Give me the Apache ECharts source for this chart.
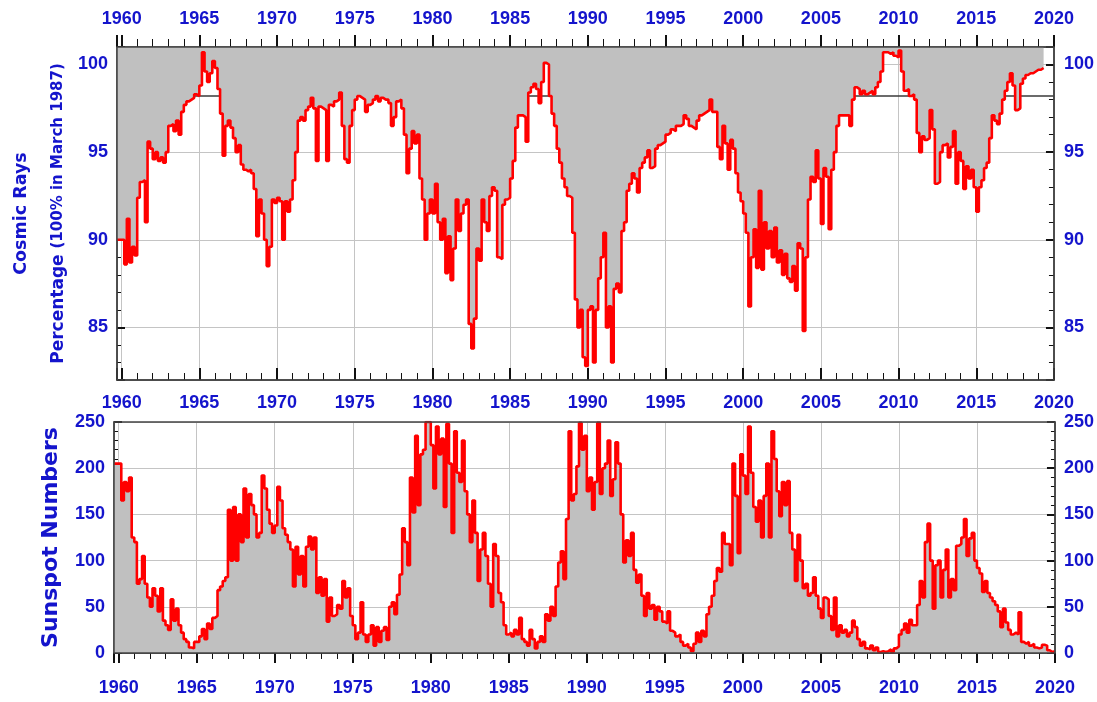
<!DOCTYPE html>
<html>
<head>
<meta charset="utf-8">
<script src="https://cdn.jsdelivr.net/npm/echarts@6/dist/echarts.min.js"></script>
<style>
  html, body { margin: 0; padding: 0; background: #ffffff; }
  #chart { width: 1097px; height: 702px; }
</style>
</head>
<body>
<div id="chart"></div>
<script>
// Bimonthly samples: six values per year, starting at the first year given.
const stepYears = 1 / 6;

// Cosmic ray intensity, percent of the March 1987 level, 1960.0 onwards.
const cosmicStartYear = 1960;
const cosmicRays = [
  90.0, 88.6, 91.2, 88.7, 89.6, 89.1,    // 1960
  92.4, 93.3, 93.4, 91.0, 95.6, 95.2,    // 1961
  94.6, 95.0, 94.5, 94.7, 94.4, 95.0,    // 1962
  96.5, 96.6, 96.2, 96.8, 96.0, 97.3,    // 1963
  97.7, 97.9, 98.0, 98.1, 98.3, 98.2,    // 1964
  98.8, 100.7, 99.6, 99.0, 99.5, 100.2,  // 1965
  99.8, 98.6, 97.2, 94.8, 96.5, 96.8,    // 1966
  96.4, 95.8, 95.0, 95.4, 94.3, 94.0,    // 1967
  93.9, 94.0, 93.8, 92.9, 90.2, 92.3,    // 1968
  91.5, 90.0, 88.5, 89.6, 92.3, 92.1,    // 1969
  92.4, 92.2, 90.0, 92.2, 91.6, 92.3,    // 1970
  93.4, 95.0, 96.8, 97.0, 96.8, 97.4,    // 1971
  97.6, 98.1, 97.5, 94.5, 97.6, 97.5,    // 1972
  97.4, 94.5, 97.7, 97.6, 97.9, 98.0,    // 1973
  98.4, 96.5, 94.6, 94.4, 96.5, 97.4,    // 1974
  98.0, 98.2, 98.1, 98.0, 97.3, 97.7,    // 1975
  97.8, 98.0, 98.2, 97.9, 98.1, 98.0,    // 1976
  98.0, 97.8, 96.5, 97.0, 97.9, 98.0,    // 1977
  97.5, 96.0, 93.8, 95.2, 96.2, 95.5,    // 1978
  96.0, 93.5, 92.3, 90.0, 91.5, 92.3,    // 1979
  91.5, 93.2, 91.0, 90.0, 91.2, 88.1,    // 1980
  90.2, 87.7, 89.5, 92.3, 90.5, 91.5,    // 1981
  92.0, 92.3, 85.2, 83.8, 85.5, 89.5,    // 1982
  88.8, 92.3, 91.0, 90.5, 92.5, 93.0,    // 1983
  92.8, 89.0, 88.9, 92.0, 92.3, 92.4,    // 1984
  93.5, 94.5, 96.4, 97.1, 97.1, 97.0,    // 1985
  95.6, 98.4, 98.7, 98.9, 98.6, 97.8,    // 1986
  99.0, 100.1, 100.0, 98.2, 97.2, 96.5,  // 1987
  95.2, 94.4, 93.5, 93.0, 92.5, 92.4,    // 1988
  90.4, 86.6, 85.0, 86.0, 83.3, 82.8,    // 1989
  86.0, 86.2, 83.0, 86.0, 87.8, 89.0,    // 1990
  90.4, 85.0, 86.2, 83.0, 87.2, 87.5,    // 1991
  87.0, 90.5, 91.0, 92.8, 93.2, 93.8,    // 1992
  93.5, 92.7, 94.1, 94.4, 94.7, 95.1,    // 1993
  94.1, 94.2, 95.2, 95.4, 95.5, 95.6,    // 1994
  96.0, 96.1, 96.3, 96.2, 96.5, 96.5,    // 1995
  96.6, 97.1, 96.9, 96.5, 96.4, 96.3,    // 1996
  96.8, 97.1, 97.2, 97.3, 97.4, 98.0,    // 1997
  97.3, 97.3, 95.3, 94.6, 96.5, 95.5,    // 1998
  94.0, 95.7, 95.2, 93.8, 92.7, 92.2,    // 1999
  91.5, 90.4, 86.2, 89.0, 90.6, 88.4,    // 2000
  92.8, 88.3, 91.0, 89.5, 90.5, 89.0,    // 2001
  90.7, 88.7, 89.4, 88.0, 89.2, 87.8,    // 2002
  87.6, 88.5, 87.1, 89.8, 89.5, 84.8,    // 2003
  89.0, 92.3, 93.6, 93.3, 95.1, 93.5,    // 2004
  90.9, 94.1, 93.6, 90.6, 94.0, 95.0,    // 2005
  96.5, 97.1, 97.1, 97.1, 97.1, 96.5,    // 2006
  98.0, 98.7, 98.6, 98.3, 98.5, 98.3,    // 2007
  98.4, 98.5, 98.3, 98.7, 99.0, 99.6,    // 2008
  100.7, 100.7, 100.6, 100.7, 100.5, 100.4, // 2009
  100.8, 99.6, 98.5, 98.6, 98.2, 98.3,   // 2010
  98.0, 96.1, 95.0, 95.9, 95.7, 95.8,    // 2011
  97.4, 96.3, 93.2, 93.3, 95.0, 95.4,    // 2012
  95.5, 94.7, 95.3, 96.2, 93.2, 95.0,    // 2013
  94.5, 92.9, 94.2, 93.5, 94.0, 93.0,    // 2014
  91.6, 93.0, 93.4, 94.1, 94.4, 95.8,    // 2015
  97.1, 96.8, 96.6, 97.2, 98.0, 98.5,    // 2016
  99.0, 99.5, 98.8, 97.4, 97.5, 98.9,    // 2017
  99.2, 99.4, 99.5, 99.5, 99.6, 99.7,    // 2018
  99.7, 99.8, 99.8                       // 2019
];

// Level of the horizontal reference line in the cosmic ray panel.
const cosmicReferenceLevel = 98.2;

// Monthly-mean sunspot numbers, sampled bimonthly, 1960.0 onwards.
const sunspotStartYear = 1960;
const sunspotNumbers = [
  205, 165, 185, 175, 190, 125,  // 1960
  120, 75, 80, 105, 75, 60,      // 1961
  50, 70, 62, 45, 70, 35,        // 1962
  30, 25, 58, 35, 48, 30,        // 1963
  22, 15, 12, 6, 5, 12,          // 1964
  12, 18, 26, 15, 32, 26,        // 1965
  38, 40, 68, 72, 78, 82,        // 1966
  155, 100, 158, 100, 150, 120,  // 1967
  178, 125, 172, 160, 150, 125,  // 1968
  130, 192, 178, 155, 140, 130,  // 1969
  138, 180, 165, 135, 128, 120,  // 1970
  112, 72, 115, 85, 105, 72,     // 1971
  115, 126, 112, 125, 65, 82,    // 1972
  62, 80, 34, 60, 40, 42,        // 1973
  52, 48, 78, 60, 70, 40,        // 1974
  30, 15, 22, 55, 20, 12,        // 1975
  20, 30, 8, 28, 12, 24,         // 1976
  28, 14, 50, 55, 42, 63,        // 1977
  85, 135, 120, 95, 190, 152,    // 1978
  235, 160, 215, 220, 250, 250,  // 1979
  225, 178, 245, 215, 232, 158,  // 1980
  248, 205, 130, 240, 195, 185,  // 1981
  230, 175, 150, 120, 165, 130,  // 1982
  78, 112, 130, 105, 75, 50,     // 1983
  118, 105, 65, 55, 30, 20,      // 1984
  22, 18, 25, 20, 38, 15,        // 1985
  12, 8, 25, 15, 5, 12,          // 1986
  18, 12, 42, 35, 50, 40,        // 1987
  72, 98, 110, 80, 145, 240,     // 1988
  165, 172, 202, 249, 220, 235,  // 1989
  175, 190, 155, 185, 249, 172,  // 1990
  200, 205, 230, 170, 188, 228,  // 1991
  205, 150, 98, 122, 105, 130,   // 1992
  90, 76, 85, 62, 40, 65,        // 1993
  48, 52, 36, 50, 45, 34,        // 1994
  32, 45, 24, 22, 18, 20,        // 1995
  12, 8, 10, 6, 2, 10,           // 1996
  22, 12, 24, 18, 42, 50,        // 1997
  62, 78, 92, 88, 130, 118,      // 1998
  118, 95, 205, 170, 108, 215,   // 1999
  192, 172, 245, 195, 158, 142,  // 2000
  165, 125, 170, 205, 125, 240,  // 2001
  210, 175, 148, 185, 160, 186,  // 2002
  130, 112, 78, 128, 100, 70,    // 2003
  75, 62, 65, 82, 62, 48,        // 2004
  38, 60, 58, 40, 25, 60,        // 2005
  18, 30, 22, 25, 18, 22,        // 2006
  35, 28, 15, 8, 12, 5,          // 2007
  4, 8, 3, 6, 1, 2,              // 2008
  1, 2, 4, 1, 5, 7,              // 2009
  20, 25, 32, 22, 36, 30,        // 2010
  30, 52, 78, 60, 120, 140,      // 2011
  100, 48, 95, 100, 60, 90,      // 2012
  112, 60, 80, 68, 116, 118,     // 2013
  125, 145, 105, 124, 130, 100,  // 2014
  92, 86, 66, 78, 65, 60,        // 2015
  56, 52, 45, 28, 48, 33,        // 2016
  25, 20, 22, 20, 44, 12,        // 2017
  10, 12, 8, 10, 6, 5,           // 2018
  6, 9, 8, 3, 1, 2, 2            // 2019
];

// Axis extents (years on x, percent / sunspot count on y).
const yearMin = 1959.7;
const yearMax = 2020;
const cosmicAxisMin = 82;
const cosmicAxisMax = 101;
const sunspotAxisMin = 0;
const sunspotAxisMax = 250;
const sunspotAxisStep = 50;

const BLUE = '#1414cc';
const LABEL_FONT = '"Liberation Sans Narrow", "Arial Narrow", "Liberation Sans", Arial, sans-serif';
const TITLE_FONT = '"DejaVu Sans", "Liberation Sans", Arial, sans-serif';
const TICK_COLOR = '#111111';
const GRID_LINE = '#c4c4c4';

// Turn an evenly spaced value list into [year, value] pairs,
// carried back to the left edge of the axis with the first value.
function toYearPairs(startYear, values) {
  const pts = values.map((v, i) => [startYear + i * stepYears, v]);
  pts.unshift([yearMin, values[0]]);
  return pts;
}

const chart = echarts.init(document.getElementById('chart'), null, { renderer: 'canvas' });

const labelStyle = (margin, show = true) => ({
  show,
  color: BLUE,
  fontFamily: LABEL_FONT,
  fontWeight: 'bold',
  fontSize: 18,
  margin
});

function yearAxis(gridIndex, position, opts) {
  return {
    type: 'value',
    gridIndex,
    position,
    min: yearMin,
    max: yearMax,
    splitNumber: 12,
    axisLine: { show: true, lineStyle: { color: '#444', width: 1.5 } },
    axisTick: { show: true, inside: opts.inside, length: opts.tickLen,
                lineStyle: { color: TICK_COLOR, width: 2 } },
    minorTick: { show: true, splitNumber: 5, length: opts.minorLen,
                 lineStyle: { color: TICK_COLOR, width: 1 } },
    axisLabel: Object.assign(labelStyle(opts.margin, opts.labels),
                             { showMinLabel: false, formatter: v => String(Math.round(v)) }),
    splitLine: { show: !!opts.grid, lineStyle: { color: GRID_LINE, width: 1 } },
    minorSplitLine: { show: false }
  };
}

function valueAxis(gridIndex, position, opts) {
  const axis = {
    type: 'value',
    gridIndex,
    position,
    min: opts.min,
    max: opts.max,
    axisLine: { show: true, lineStyle: { color: '#444', width: 1.5 } },
    axisTick: { show: true, inside: true, length: opts.tickLen,
                lineStyle: { color: TICK_COLOR, width: 2 } },
    minorTick: { show: true, splitNumber: opts.minorSplit, length: opts.minorLen,
                 lineStyle: { color: TICK_COLOR, width: 1 } },
    axisLabel: Object.assign(labelStyle(opts.margin),
                             { showMinLabel: opts.showMin, showMaxLabel: opts.showMax }),
    splitLine: { show: !!opts.grid, lineStyle: { color: GRID_LINE, width: 1 } }
  };
  if (opts.interval) axis.interval = opts.interval;
  if (opts.splitNumber) axis.splitNumber = opts.splitNumber;
  if (opts.name) Object.assign(axis, opts.name);
  return axis;
}

const cosmicName = {
  name: '{t|Cosmic Rays}\n{p|Percentage }{s|(100% in March 1987)}',
  nameLocation: 'middle',
  nameRotate: 90,
  nameGap: 44,
  nameTextStyle: {
    rich: {
      t: { fontFamily: TITLE_FONT, fontWeight: 'bold', fontSize: 17.5, color: BLUE, lineHeight: 50 },
      p: { fontFamily: TITLE_FONT, fontWeight: 'bold', fontSize: 17, color: BLUE, lineHeight: 24 },
      s: { fontFamily: TITLE_FONT, fontWeight: 'bold', fontSize: 15, color: BLUE, lineHeight: 24 }
    }
  }
};

const sunspotName = {
  name: 'Sunspot Numbers',
  nameLocation: 'middle',
  nameRotate: 90,
  nameGap: 46,
  nameTextStyle: { fontFamily: TITLE_FONT, fontWeight: 'bold', fontSize: 22, color: BLUE, lineHeight: 26 }
};

const option = {
  backgroundColor: '#ffffff',
  animation: false,
  grid: [
    { left: 117, right: 37, top: 47, height: 333, show: true, z: 10,
      backgroundColor: 'transparent', borderColor: '#444', borderWidth: 1.5 },
    { left: 114, right: 39, top: 422, height: 231, show: true, z: 10,
      backgroundColor: 'transparent', borderColor: '#444', borderWidth: 1.5 }
  ],
  xAxis: [
    yearAxis(0, 'top',    { inside: false, tickLen: 12, minorLen: 8, margin: 19, labels: true }),
    yearAxis(0, 'bottom', { inside: true,  tickLen: 12, minorLen: 7, margin: 14, labels: true, grid: true }),
    yearAxis(1, 'top',    { inside: true,  tickLen: 10, minorLen: 6, margin: 10, labels: false }),
    yearAxis(1, 'bottom', { inside: false, tickLen: 10, minorLen: 6, margin: 26, labels: true, grid: true })
  ],
  yAxis: [
    valueAxis(0, 'left',  { min: cosmicAxisMin, max: cosmicAxisMax, splitNumber: 4, minorSplit: 5,
                            tickLen: 8, minorLen: 4, margin: 9, showMin: false, showMax: false,
                            grid: true, name: cosmicName }),
    valueAxis(0, 'right', { min: cosmicAxisMin, max: cosmicAxisMax, splitNumber: 4, minorSplit: 5,
                            tickLen: 8, minorLen: 5, margin: 10, showMin: false, showMax: false }),
    valueAxis(1, 'left',  { min: sunspotAxisMin, max: sunspotAxisMax, interval: sunspotAxisStep, minorSplit: 5,
                            tickLen: 8, minorLen: 4, margin: 9, showMin: true, showMax: true,
                            grid: true, name: sunspotName }),
    valueAxis(1, 'right', { min: sunspotAxisMin, max: sunspotAxisMax, interval: sunspotAxisStep, minorSplit: 5,
                            tickLen: 8, minorLen: 4, margin: 9, showMin: true, showMax: true })
  ],
  series: [
    {
      // reference level; hidden wherever the shaded band lies over it
      name: 'reference',
      type: 'line',
      xAxisIndex: 1,
      yAxisIndex: 0,
      data: [[yearMin, cosmicReferenceLevel], [yearMax, cosmicReferenceLevel]],
      symbol: 'none',
      silent: true,
      z: 1,
      lineStyle: { color: '#3a3a3a', width: 1.5 }
    },
    {
      name: 'Cosmic Rays',
      type: 'line',
      xAxisIndex: 1,
      yAxisIndex: 0,
      step: 'end',
      symbol: 'none',
      z: 2,
      data: toYearPairs(cosmicStartYear, cosmicRays),
      lineStyle: { color: '#ff0000', width: 2.6 },
      areaStyle: { color: '#c0c0c0', opacity: 1, origin: 'end' }
    },
    {
      name: 'Sunspot Numbers',
      type: 'line',
      xAxisIndex: 3,
      yAxisIndex: 2,
      step: 'end',
      symbol: 'none',
      z: 2,
      data: toYearPairs(sunspotStartYear, sunspotNumbers),
      lineStyle: { color: '#ff0000', width: 2.6 },
      areaStyle: { color: '#c0c0c0', opacity: 1, origin: 'start' }
    }
  ]
};

chart.setOption(option);
</script>
</body>
</html>
